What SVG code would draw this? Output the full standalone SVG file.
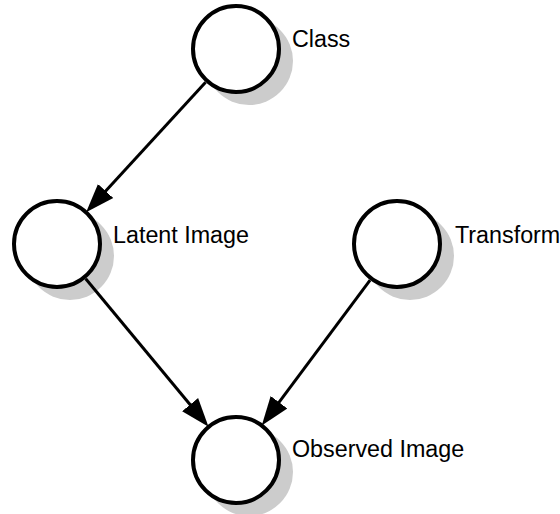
<svg xmlns="http://www.w3.org/2000/svg" width="560" height="514" viewBox="0 0 560 514">
<style>
.shadow{fill:#cccccc;stroke:none}
.node{fill:#ffffff;stroke:#000000;stroke-width:4}
.label{font-family:"Liberation Sans",Arial,sans-serif;font-size:23.3px;fill:#000000}
.edge{stroke:#000000;stroke-width:3;fill:none;marker-end:url(#arrow)}
</style>
<defs>
<marker id="arrow" markerUnits="userSpaceOnUse" markerWidth="30" markerHeight="24" viewBox="0 0 26 20" refX="19" refY="10" orient="auto">
<path d="M0,1 L25,10 L0,19 Z" fill="#000000"/>
</marker>
</defs>
<g id="node-class">
<circle class="shadow" cx="249" cy="61" r="44"/>
<circle class="node" cx="236" cy="49" r="43"/>
<text class="label" x="292" y="47">Class</text>
</g>
<g id="node-latent">
<circle class="shadow" cx="70" cy="256" r="44"/>
<circle class="node" cx="57" cy="244" r="43"/>
<text class="label" x="113" y="243">Latent Image</text>
</g>
<g id="node-transform">
<circle class="shadow" cx="410" cy="256" r="44"/>
<circle class="node" cx="397" cy="244" r="43"/>
<text class="label" x="455" y="243">Transform</text>
</g>
<g id="node-observed">
<circle class="shadow" cx="249" cy="472" r="44"/>
<circle class="node" cx="236" cy="460" r="43"/>
<text class="label" x="292" y="457">Observed Image</text>
</g>
<g id="connectors">
<line class="edge" x1="205.6" y1="82.2" x2="90.8" y2="207.2"/>
<line class="edge" x1="85.7" y1="278.7" x2="204.1" y2="421.5"/>
<line class="edge" x1="370.1" y1="280.1" x2="265.9" y2="419.9"/>
</g>
</svg>
